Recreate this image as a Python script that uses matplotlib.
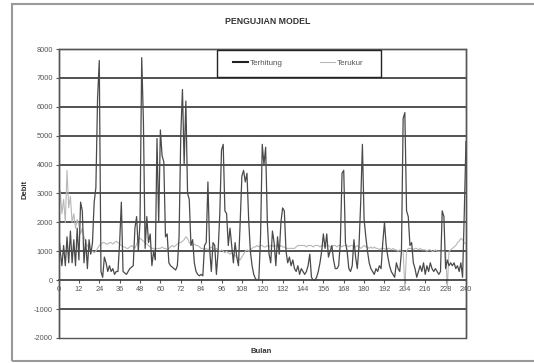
import numpy as np
import matplotlib
matplotlib.use('Agg')
import matplotlib.pyplot as plt
from matplotlib.patches import Rectangle

plt.rcParams['font.family'] = ['Liberation Sans', 'DejaVu Sans']
plt.rcParams['axes.unicode_minus'] = False

# bulan ke-0 .. 240
bulan = np.arange(0, 241)

# debit terhitung (model)
terhitung = [
    1700, 1000, 500, 1200, 500, 1500, 600, 1700, 600, 1400, 500, 1800,
    700, 2700, 2400, 600, 1400, 400, 1400, 900, 1300, 2700, 3200, 6300,
    7600, 300, 100, 800, 600, 300, 500, 300, 400, 200, 300, 300,
    1300, 2700, 300, 250, 200, 300, 400, 450, 500, 1800, 2200, 1000,
    2000, 7700, 5500, 1100, 2200, 1300, 1600, 500, 1000, 700, 4900, 2000,
    5200, 4300, 4100, 1500, 1600, 600, 500, 450, 400, 350, 500, 1500,
    5000, 6600, 4000, 6200, 3000, 2800, 1200, 1400, 600, 300, 200, 150,
    200, 150, 1200, 1300, 3400, 1100, 300, 1300, 1200, 200, 1000, 2300,
    4500, 4700, 2400, 2300, 1200, 1800, 1200, 600, 1300, 800, 500, 2000,
    3600, 3800, 3400, 3700, 2100, 1000, 500, 200, 50, 0, 50, 1500,
    4700, 4000, 4600, 2000, 900, 600, 1700, 1300, 500, 1500, 900, 2000,
    2500, 2400, 1000, 600, 800, 500, 700, 400, 300, 500, 200, 400,
    300, 200, 300, 500, 900, 100, 0, 0, 100, 300, 600, 1000,
    1600, 1100, 1600, 800, 1000, 1200, 700, 400, 400, 500, 1300, 3700,
    3800, 1300, 1000, 400, 300, 500, 1400, 800, 400, 1200, 2700, 4700,
    2100, 1500, 1000, 600, 400, 300, 200, 400, 300, 500, 400, 1300,
    2000, 1200, 800, 500, 300, 200, 100, 600, 400, 300, 1000, 5600,
    5800, 2400, 2200, 1200, 1300, 600, 400, 100, 300, 500, 300, 600,
    200, 500, 300, 600, 400, 300, 400, 300, 200, 300, 2400,
    2200, 400, 700, 500, 600, 500, 600, 400, 500, 300, 600, 100,
    2300, 4800,
]

# debit terukur (pengamatan)
terukur = [
    2000, 3100, 2300, 2800, 2000, 3800, 2500, 2900, 2000, 2300, 1800, 2100,
    1900, 1600, 1800, 1500, 1300, 1200, 1100, 1000, 1000, 950, 1000, 1100,
    1200, 1250, 1300, 1300, 1250, 1250, 1300, 1300, 1250, 1300, 1350, 1300,
    1250, 1200, 1150, 1150, 1100, 1100, 1150, 1200, 1150, 1100, 1250, 1400,
    1450, 1400, 1350, 1300, 1250, 1200, 1150, 1100, 1100, 1050, 1100, 1100,
    1100, 1150, 1100, 1100, 1050, 1100, 1150, 1200, 1150, 1200, 1250, 1300,
    1300, 1350, 1400, 1500, 1450, 1300, 1250, 1200, 1250, 1200, 1200, 1150,
    1100, 1100, 1050, 1100, 1050, 1100, 1150, 1100, 1050, 1100, 1050, 1000,
    1050, 1000, 950, 1000, 950, 900, 950, 900, 850, 800, 750, 700,
    800, 900, 1000, 1050, 1000, 1050, 1100, 1150, 1150, 1200, 1150, 1200,
    1200, 1150, 1150, 1200, 1150, 1200, 1200, 1150, 1200, 1150, 1150, 1200,
    1150, 1150, 1100, 1100, 1100, 1100, 1100, 1100, 1150, 1200, 1200, 1200,
    1200, 1200, 1150, 1200, 1200, 1200, 1150, 1200, 1200, 1200, 1150, 1200,
    1200, 1150, 1200, 1200, 1150, 1150, 1200, 1200, 1150, 1200, 1200, 1150,
    1200, 1200, 1200, 1150, 1200, 1200, 1150, 1150, 1200, 1150, 1100, 1150,
    1200, 1150, 1150, 1100, 1150, 1100, 1150, 1100, 1100, 1050, 1100, 1100,
    1100, 1050, 1100, 1100, 1050, 1100, 1050, 1050, 1000, 1050, 1000, 1000,
    -300, 1000, 1100, 1100, 1100, 1050, 1100, 1100, 1050, 1100, 1050, 1050,
    1050, 1000, 1050, 1050, 1000, 1000, 1050, 1000, 1000, 1000, 1000, 1000,
    1000, -300, 1000, 1050, 1100, 1150, 1200, 1300, 1350, 1450, 1400, 1300,
    1250,
]

x_ticks = np.arange(0, 241, 12)
y_ticks = np.arange(-2000, 8001, 1000)

fig = plt.figure(figsize=(5.34, 3.63), dpi=100)

# bingkai luar (sisi kanan terpotong)
fig.patches.append(Rectangle((0.023, 0.005), 1.05, 0.983, transform=fig.transFigure,
                             fill=False, edgecolor='#999999', lw=1.5))

ax = fig.add_axes([0.1096, 0.069, 0.763, 0.796])
ax.plot(bulan, terhitung, color='#4a4a4a', lw=0.9, label='Terhitung', zorder=3)
ax.plot(bulan, terukur, color='#b8b8b8', lw=0.8, label='Terukur', zorder=2)

ax.set_xlim(0, 240)
ax.set_ylim(-2000, 8000)
ax.set_xticks(x_ticks)
ax.set_yticks(y_ticks)
ax.tick_params(labelsize=5.3, colors='#555555', length=2, width=0.8, pad=2)

for v in y_ticks[1:-1]:
    if v != 0:
        ax.axhline(v, color='#222222', lw=1.1, zorder=1)

for s in ['top', 'left', 'right']:
    ax.spines[s].set_color('#555555')
    ax.spines[s].set_linewidth(1.0)
ax.spines['bottom'].set_position(('data', 0))
ax.spines['bottom'].set_color('#222222')
ax.spines['bottom'].set_linewidth(1.1)
ax.add_patch(Rectangle((0, 0), 1, 1, transform=ax.transAxes, fill=False,
                       edgecolor='#555555', lw=1.0, clip_on=False, zorder=4))

# kotak legenda
ax.add_patch(Rectangle((0.389, 0.903), 0.402, 0.094, transform=ax.transAxes,
                       facecolor='white', edgecolor='#222222', lw=1.0, zorder=5))
leg = ax.legend(loc='center', bbox_to_anchor=(0.589, 0.95), ncol=2, fontsize=5.8,
                frameon=False, handlelength=1.85, handletextpad=0.25, columnspacing=4.6)
leg.set_zorder(6)
leg.get_lines()[0].set_linewidth(1.5)
leg.get_lines()[0].set_color('#222222')
for t in leg.get_texts():
    t.set_color('#555555')

fig.text(0.502, 0.942, 'PENGUJIAN MODEL', ha='center', va='center', fontsize=6.3, fontweight='bold', color='#333333')
fig.text(0.047, 0.477, 'Debit', ha='center', va='center', rotation=90, fontsize=5.5, fontweight='bold', color='#333333')
fig.text(0.49, 0.033, 'Bulan', ha='center', va='center', fontsize=5.5, fontweight='bold', color='#333333')

fig.savefig('out.png', dpi=100)
